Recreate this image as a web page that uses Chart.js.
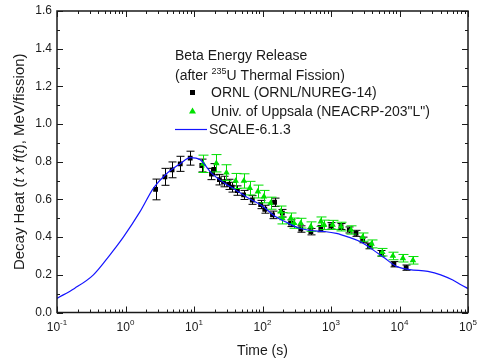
<!DOCTYPE html>
<html>
<head>
<meta charset="utf-8">
<script src="https://cdn.jsdelivr.net/npm/chart.js@4.4.1/dist/chart.umd.min.js"></script>
<style>
  html, body { margin: 0; padding: 0; background: #fff; }
</style>
</head>
<body>
<canvas id="heatChart" width="480" height="363"></canvas>
<script>
// ORNL (ORNL/NUREG-14): time (s), t*f(t) in MeV/fission, +/- error
const ornlTime = [2.75, 3.76, 4.78, 6.3, 8.8, 13, 18, 19.5, 23.5, 27, 32, 36, 43, 53, 71, 94, 108, 140, 150, 195, 257, 362, 508, 711, 998, 1400, 1850, 2320, 2900, 3630, 5450, 8280, 12500];
const ornlHeat = [0.653, 0.72, 0.757, 0.789, 0.819, 0.78, 0.735, 0.76, 0.705, 0.695, 0.68, 0.665, 0.647, 0.624, 0.597, 0.573, 0.548, 0.518, 0.585, 0.527, 0.474, 0.443, 0.429, 0.445, 0.46, 0.456, 0.438, 0.42, 0.385, 0.353, 0.314, 0.256, 0.238];
const ornlErr = [0.055, 0.045, 0.042, 0.04, 0.037, 0.034, 0.03, 0.03, 0.028, 0.028, 0.027, 0.026, 0.025, 0.024, 0.023, 0.022, 0.021, 0.02, 0.022, 0.02, 0.018, 0.017, 0.017, 0.017, 0.017, 0.016, 0.016, 0.016, 0.015, 0.015, 0.015, 0.014, 0.014];

// Univ. of Uppsala (NEACRP-203"L")
const uppsalaTime = [13.6, 21.2, 29.8, 40.5, 53.4, 65.3, 85.6, 105, 131, 184, 195, 258, 289, 362, 508, 711, 795, 1055, 1400, 1960, 2900, 3910, 5610, 8000, 11200, 15700];
const uppsalaHeat = [0.789, 0.792, 0.742, 0.698, 0.698, 0.66, 0.642, 0.615, 0.58, 0.535, 0.5, 0.5, 0.474, 0.474, 0.456, 0.482, 0.465, 0.465, 0.456, 0.438, 0.4, 0.364, 0.32, 0.3, 0.288, 0.277];
const uppsalaErr = [0.046, 0.046, 0.042, 0.04, 0.038, 0.036, 0.034, 0.033, 0.032, 0.03, 0.03, 0.028, 0.027, 0.026, 0.025, 0.025, 0.025, 0.024, 0.023, 0.022, 0.022, 0.021, 0.02, 0.02, 0.02, 0.02];

// SCALE-6.1.3 calculation
const scaleTime = [0.1, 0.18, 0.34, 0.59, 0.93, 1.63, 2.56, 3.8, 6.3, 8.8, 12.3, 18, 27, 40, 60, 100, 150, 220, 330, 500, 800, 1200, 1800, 2700, 4000, 6000, 9000, 14000, 26000, 40000, 60000, 80000, 100000];
const scaleHeat = [0.075, 0.128, 0.2, 0.305, 0.4, 0.535, 0.66, 0.73, 0.79, 0.822, 0.81, 0.74, 0.69, 0.652, 0.61, 0.565, 0.512, 0.48, 0.45, 0.435, 0.43, 0.42, 0.4, 0.375, 0.335, 0.29, 0.245, 0.228, 0.218, 0.2, 0.172, 0.146, 0.127];

const yTickValues = [0, 0.2, 0.4, 0.6, 0.8, 1.0, 1.2, 1.4, 1.6];
const xExponents = [-1, 0, 1, 2, 3, 4, 5];

const FONT = '"Liberation Sans", Arial, sans-serif';
const GREEN = '#00e000';
const BLUE = '#1414ff';

const toPoints = (xs, ys) => xs.map((x, i) => ({ x: x, y: ys[i] }));

// error bars are drawn right before each scatter dataset's markers
const errorBars = {
  id: 'errorBars',
  beforeDatasetDraw(chart, args) {
    const ds = chart.data.datasets[args.index];
    if (!ds.errors) return;
    const ctx = chart.ctx;
    const xs = chart.scales.x, ys = chart.scales.y;
    ctx.save();
    ctx.strokeStyle = ds.errorColor;
    ctx.lineWidth = 1;
    ds.data.forEach((p, i) => {
      const px = Math.round(xs.getPixelForValue(p.x)) + 0.5;
      const top = ys.getPixelForValue(p.y + ds.errors[i]);
      const bot = ys.getPixelForValue(p.y - ds.errors[i]);
      const w = ds.capWidth;
      ctx.beginPath();
      ctx.moveTo(px, top); ctx.lineTo(px, bot);
      ctx.moveTo(px - w, top); ctx.lineTo(px + w, top);
      ctx.moveTo(px - w, bot); ctx.lineTo(px + w, bot);
      ctx.stroke();
    });
    ctx.restore();
  }
};

// frame, inward ticks, labels and the legend box text
const frame = {
  id: 'frame',
  afterDraw(chart) {
    const ctx = chart.ctx;
    const a = chart.chartArea;
    const xs = chart.scales.x, ys = chart.scales.y;
    ctx.save();
    ctx.strokeStyle = '#1a1a1a';
    ctx.lineWidth = 1.5;
    ctx.strokeRect(a.left, a.top, a.right - a.left, a.bottom - a.top);

    ctx.lineWidth = 1;
    ctx.beginPath();
    // x ticks: decades long, 2..9 short, bottom and top
    xExponents.forEach(e => {
      const base = Math.pow(10, e);
      for (let m = 1; m <= 9; m++) {
        const v = base * m;
        if (v > 1e5 + 1) break;
        const px = Math.round(xs.getPixelForValue(v)) + 0.5;
        const len = m === 1 ? 6 : 3;
        ctx.moveTo(px, a.bottom); ctx.lineTo(px, a.bottom - len);
        ctx.moveTo(px, a.top); ctx.lineTo(px, a.top + len);
      }
    });
    // y ticks every 0.1, labelled every 0.2
    for (let k = 0; k <= 16; k++) {
      const py = Math.round(ys.getPixelForValue(k / 10)) + 0.5;
      const len = k % 2 === 0 ? 6 : 3;
      ctx.moveTo(a.left, py); ctx.lineTo(a.left + len, py);
      ctx.moveTo(a.right, py); ctx.lineTo(a.right - len, py);
    }
    ctx.stroke();

    ctx.fillStyle = '#1a1a1a';
    ctx.font = '12px ' + FONT;
    ctx.textAlign = 'right';
    ctx.textBaseline = 'middle';
    yTickValues.forEach(v => {
      ctx.fillText(v.toFixed(1), a.left - 5, ys.getPixelForValue(v));
    });

    // x tick labels as 10 with a raised exponent
    ctx.textBaseline = 'alphabetic';
    ctx.textAlign = 'left';
    xExponents.forEach(e => {
      const px = xs.getPixelForValue(Math.pow(10, e));
      ctx.font = '12px ' + FONT;
      const wb = ctx.measureText('10').width;
      ctx.font = '8px ' + FONT;
      const ex = e < 0 ? '-' + (-e) : String(e);
      const we = ctx.measureText(ex).width;
      const x0 = px - (wb + we) / 2;
      ctx.font = '12px ' + FONT;
      ctx.fillText('10', x0, a.bottom + 18);
      ctx.font = '8px ' + FONT;
      ctx.fillText(ex, x0 + wb, a.bottom + 12);
    });

    // axis titles
    ctx.font = '14px ' + FONT;
    ctx.textAlign = 'center';
    ctx.fillText('Time (s)', (a.left + a.right) / 2, 355);

    ctx.save();
    ctx.translate(24, (a.top + a.bottom) / 2);
    ctx.rotate(-Math.PI / 2);
    const parts = [
      ['Decay Heat (', false], ['t x f', true], ['(', false], ['t', true], ['), MeV/fission)', false]
    ];
    let total = 0;
    parts.forEach(p => {
      ctx.font = (p[1] ? 'italic ' : '') + '15px ' + FONT;
      total += ctx.measureText(p[0]).width;
    });
    let cx = -total / 2;
    ctx.textAlign = 'left';
    parts.forEach(p => {
      ctx.font = (p[1] ? 'italic ' : '') + '15px ' + FONT;
      ctx.fillText(p[0], cx, 0);
      cx += ctx.measureText(p[0]).width;
    });
    ctx.restore();

    // legend
    ctx.textAlign = 'left';
    ctx.textBaseline = 'alphabetic';
    ctx.font = '14px ' + FONT;
    ctx.fillText('Beta Energy Release', 175, 60);
    let lx = 175;
    ctx.fillText('(after ', lx, 80);
    lx += ctx.measureText('(after ').width;
    ctx.font = '9px ' + FONT;
    ctx.fillText('235', lx, 74);
    lx += ctx.measureText('235').width;
    ctx.font = '14px ' + FONT;
    ctx.fillText('U Thermal Fission)', lx, 80);

    ctx.fillText('ORNL (ORNL/NUREG-14)', 211, 97);
    ctx.fillText('Univ. of Uppsala (NEACRP-203"L")', 211, 115.5);
    ctx.fillText('SCALE-6.1.3', 209, 134);

    ctx.fillStyle = '#000';
    ctx.fillRect(190, 90, 5, 5);
    ctx.fillStyle = GREEN;
    ctx.beginPath();
    ctx.moveTo(192.5, 107.5); ctx.lineTo(196, 113.5); ctx.lineTo(189, 113.5);
    ctx.closePath(); ctx.fill();
    ctx.strokeStyle = BLUE;
    ctx.lineWidth = 1.2;
    ctx.beginPath();
    ctx.moveTo(175, 129.5); ctx.lineTo(207, 129.5);
    ctx.stroke();
    ctx.restore();
  }
};

const ctx = document.getElementById('heatChart');
const heatChart = new Chart(ctx, {
  type: 'scatter',
  data: {
    datasets: [
      {
        label: 'SCALE-6.1.3',
        type: 'line',
        data: toPoints(scaleTime, scaleHeat),
        borderColor: BLUE,
        borderWidth: 1.2,
        pointRadius: 0,
        cubicInterpolationMode: 'monotone',
        fill: false,
        order: 0
      },
      {
        label: 'Univ. of Uppsala (NEACRP-203"L")',
        data: toPoints(uppsalaTime, uppsalaHeat),
        errors: uppsalaErr,
        errorColor: GREEN,
        capWidth: 5,
        pointStyle: 'triangle',
        pointRadius: 3.8,
        backgroundColor: GREEN,
        borderColor: GREEN,
        borderWidth: 0,
        order: 1
      },
      {
        label: 'ORNL (ORNL/NUREG-14)',
        data: toPoints(ornlTime, ornlHeat),
        errors: ornlErr,
        errorColor: '#000',
        capWidth: 4,
        pointStyle: 'rect',
        pointRadius: 3.4,
        backgroundColor: '#000',
        borderColor: '#000',
        borderWidth: 0,
        order: 2
      }
    ]
  },
  options: {
    responsive: false,
    animation: false,
    devicePixelRatio: 1,
    layout: { padding: { left: 0, right: 12, top: 11, bottom: 0 } },
    plugins: { legend: { display: false }, tooltip: { enabled: false } },
    scales: {
      x: {
        type: 'logarithmic',
        min: 0.1,
        max: 100000,
        grid: { display: false },
        border: { display: false },
        ticks: { display: false },
        afterFit: s => { s.height = 50.5; }
      },
      y: {
        type: 'linear',
        min: 0,
        max: 1.6,
        grid: { display: false },
        border: { display: false },
        ticks: { display: false },
        afterFit: s => { s.width = 57; }
      }
    }
  },
  plugins: [errorBars, frame]
});
</script>
</body>
</html>
